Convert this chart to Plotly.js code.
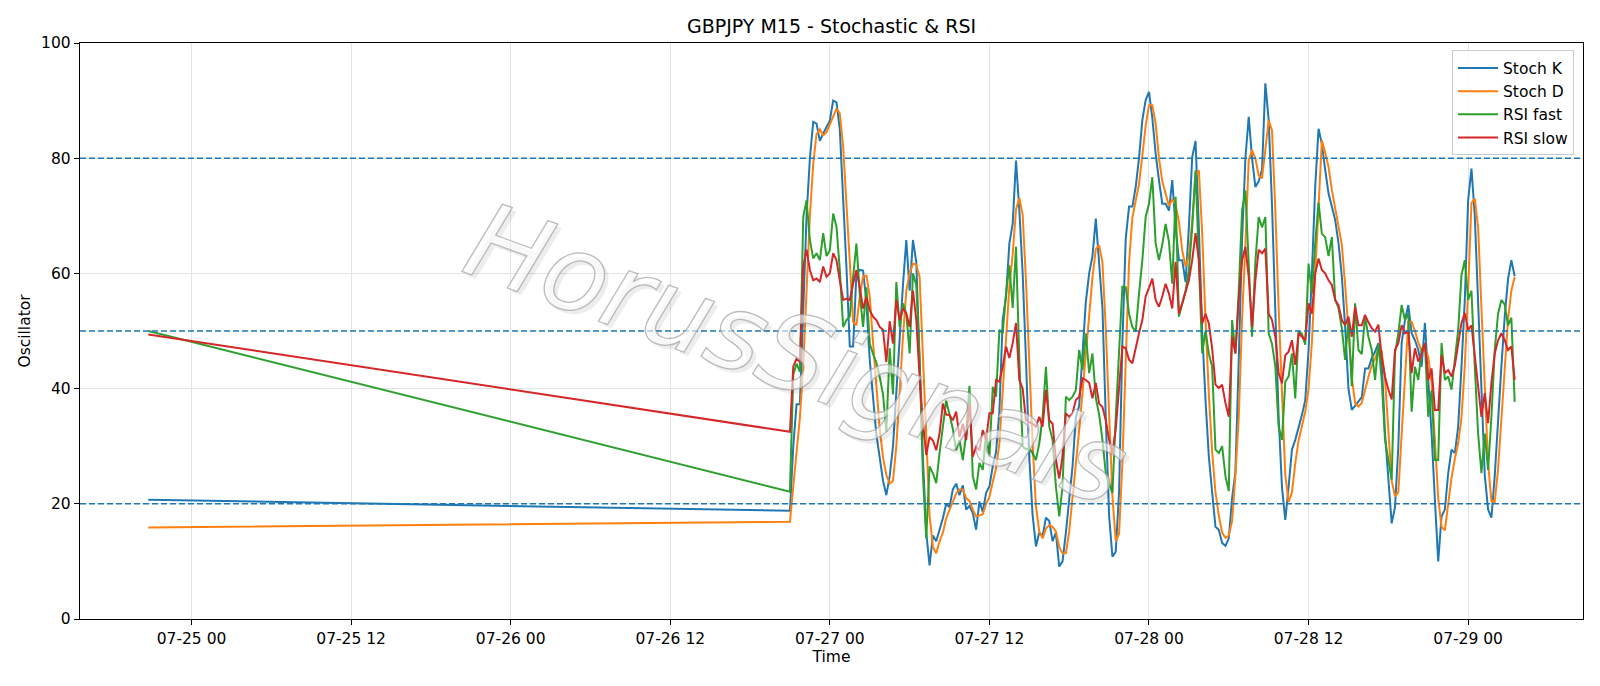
<!DOCTYPE html>
<html>
<head>
<meta charset="utf-8">
<script src="https://cdn.plot.ly/plotly-3.0.1.min.js"></script>
<style>html,body{margin:0;padding:0;background:#fff;}#chart{width:1600px;height:686px;}</style>
</head>
<body>
<div id="chart"></div>
<script>
// ---- data ----
const preGapTime = "2025-07-24 20:45";
const preGapK = 20.7, preGapD = 15.9, preGapFast = 50.0, preGapSlow = 49.4;
const sessionStart = "2025-07-26T21:00:00Z";   // first bar after the gap, M15 bars
const barMinutes = 15;

const stochK = [18.8,30,37.3,37.3,55,70,80,86.3,86,83,84.3,85.3,86.5,90,89.7,85,74,61,47.3,47.3,60,60.6,60.5,55,45,38,32,28,24,21.5,24.8,30,40,50,58,65.8,57,65.8,62,45,28,15,9.3,14.5,13.5,15.5,17.5,20,
19.4,22.5,23.5,21.5,23.2,19,19.6,18.4,15.5,20.4,18.6,21.9,23,26.5,29,36,52,56,65.2,68.6,79.6,71,60,45,28,18,12.6,15,14.4,17.6,17,13.5,15,9.1,10,15,20.7,26.5,35,37,46,55,60,63,69.5,62.3,54,35,18,10.8,11.7,22,48,66,71.6,71.6,75,80,86.6,90.1,
91.5,87,80.8,76.2,72.1,72.1,70.9,76.2,68,62.3,62.3,58.5,68,80.2,83,68,50,38,28.2,22,16,15.5,13.2,12.7,14,21,25.5,45,65.8,80,87.2,80,75,76,78,93,86.6,72,55,35,22.9,17.2,23,29.4,31.1,33.1,35.4,38,46.7,60,75,85.1,82.5,78,73.9,71.6,69.3,65.3,59.5,50.8,40,36.3,37,37.9,38.5,43.5,43.5,45.3,46.4,47.9,44.6,32.2,23.6,16.6,19.4,29.9,47.9,51.9,54.5,49.6,48.4,46.7,43.8,51.4,41.5,32.2,20.7,10,17.8,19,25.3,29.4,28.8,33.4,43.8,55.4,72.7,78.2,70,55,38,25,19,17.6,24.8,35,43.8,52.5,59,62.3,59.5];

const stochD = [16.9,23,29,35,44,56,70,79,84.2,85,84,84.5,86,87.2,88.6,87.8,82,72.7,62,51.6,51,56,59.5,59.6,56,48,40,33,28,25,23.5,24,30,40,49,57,60,61.7,61.5,59.4,45,33,18,12.5,11.4,13.5,15,17.5,
19,20.5,21.8,22.5,22.5,21,20.5,19,17.8,18,18.2,20,21.2,23.8,26.2,30.5,39,48,57.7,63.3,71.1,73.1,70.2,58.7,44.3,30.3,19.5,15.2,14,15.7,16.3,16,15.2,12.5,11.4,11.4,15.2,20.7,27.4,32.8,39.3,46,53.7,59.3,64.2,64.9,61.9,50.4,35.7,21.3,13.5,14.8,27.2,45.3,61.9,69.7,72.7,75.5,80.5,85.6,
89.2,89.2,86,80,76,73.9,71.7,72.8,72,69,64,61.2,63,69,77,77.9,67,52,39,29,22,18,15,14.1,14.5,17,25,35,52,65,79.6,81.4,80,77,76.5,81.5,86.6,84.8,71,54,38,25,20.3,22,27,31,33.5,36,40,48,60,73,83.1,81,78.5,74.5,71.5,68.5,65,58,50,42,37.5,36.9,37.5,40,42,44,45.2,46.8,46.5,41.5,33,24,21.3,22,32,43,51.6,51.6,50,48,46.5,47,45.5,41,31.5,21,16,15.4,20,24.5,27.8,30.5,35,44,57,72.2,73,68,54,39,27,20.5,20.3,26,34.5,43.8,52,57,59.4];

const rsiFast = [22.1,42.4,44.3,42.9,69.8,72.7,65.8,62.6,63.5,62.3,67,63,64,70.4,68.1,60.6,50.7,51.9,52.5,59.4,65.2,56.5,50.7,57.6,47.8,46,44.5,42,39,32.5,47,39,58.5,50.7,54.8,53,46.1,60,58,45,25,14,26.5,25.3,23.6,28.8,33,37.9,
35.5,33,29.3,31,27.6,32,40.5,24.8,22.5,27.1,25.9,32.2,28.2,40.3,38.6,50.2,49.6,56.5,61.4,54,64.6,45,29.9,29.5,29.6,28.8,27.6,30.5,35.1,43.8,33.4,31.1,23,17.8,23,38.6,38,38.6,39.7,46.7,43.2,49.6,42.7,46.1,38.4,35.5,31.1,25.3,23.6,21.9,35,47.3,57.7,57.6,53,50.7,49.9,56.5,62.3,69.8,
72.1,76.7,65.2,62.3,65,68.6,65.5,58.2,73.3,52.5,54.8,57,60.5,68,77.9,60,46.1,50,46.1,43.8,29.4,28.8,30,24.8,22.2,51.9,46.1,57,70.9,74.4,62,49,62,69.8,68,69.8,49.6,47.8,43.8,33.4,31.1,41.2,42.1,46.1,38.3,50,49.5,47.6,61.7,56.5,65.2,72.3,66.9,66.3,63,66.3,55.4,54,50.5,45,52,40.4,54.8,46.7,46,52.5,49,46.7,41.5,47.9,41.5,31.1,27.6,24.2,46.1,49.6,54.5,51.9,53.1,36,43.8,41.5,46.7,47.9,35.1,39.7,27.6,27.6,47.9,41.5,42.1,39.8,45,50.2,59.7,62.3,55.4,57,43.8,32.2,25.3,32.2,25.9,35.1,46.7,53,55.4,54.6,51,52.3,37.7];

const rsiSlow = [32.5,43.8,45.2,44.6,61.2,64.1,60.6,58.8,59.1,58.5,61.2,59.4,60,63.5,62.3,58.8,55.4,55.6,55.4,58.2,60.6,57.6,53.9,55.9,53.6,52.5,51.9,50.7,50.2,44.6,51.7,47.8,55.4,51.9,53.9,53,50.7,57,52,42,34,28.5,31.6,31,29.3,32.2,37.4,35.5,
35.4,34.5,36,31.6,33.9,31.1,37.5,28.2,29.9,29.3,32.8,31.1,35.7,35.7,41.5,41.2,43.8,47.3,45.3,47.9,51.4,41.5,40,34.5,34.2,33.9,33.4,35.1,33.4,39.8,34.5,33.9,27.6,24.4,28.2,35.7,35.1,35.7,38,38.6,41.8,41.5,41,38.3,41,37.4,36.8,34.5,31.1,28.8,33,40,47.3,47,45,44.4,47.3,49.6,51.9,56,
57.5,59.1,55.4,54.2,56,58.2,56.5,53.9,62,53,54.8,57,58.8,62.3,67,62.3,51.3,53,51.3,47,40.7,40.1,40.7,37.5,35.1,49,46.1,55.4,62.3,64.6,59.4,50.7,58.8,64.1,63.5,64.3,53,51.9,49,42.7,40.9,45.8,46.4,48.4,44.1,49.6,49,48.4,54.8,53,60,62.6,60.6,60,58.8,58,55.4,54.5,51.9,51,52.5,49,54.2,51,51,52.8,51.5,50.5,49.9,51.1,45.5,42.1,39.8,38.1,46.7,47.9,51,49.6,49.9,42.7,47,44.7,46,47.9,41.5,43.5,36.3,36.3,45.8,42.7,43.2,42.1,44,47.9,51.4,53.1,50.2,51,46,40,35.1,39.2,34,41,46.1,48.4,49.6,48.4,46.7,47.3,41.5];

const levels = [20, 50, 80];
const xTicks = ["2025-07-25 00:00","2025-07-25 12:00","2025-07-26 00:00","2025-07-26 12:00","2025-07-27 00:00","2025-07-27 12:00","2025-07-28 00:00","2025-07-28 12:00","2025-07-29 00:00"];
const yTicks = [0, 20, 40, 60, 80, 100];
const seriesNames = ["Stoch K", "Stoch D", "RSI fast", "RSI slow"];
const seriesColors = ["#1f77b4", "#ff7f0e", "#2ca02c", "#d62728"];

// ---- time axis: one bar before the gap, then consecutive M15 bars ----
const t0 = Date.parse(sessionStart);
const times = [preGapTime];
for (let i = 0; i < stochK.length; i++) {
  times.push(new Date(t0 + i * barMinutes * 60000).toISOString().slice(0, 16).replace("T", " "));
}
const seriesData = [
  [preGapK].concat(stochK),
  [preGapD].concat(stochD),
  [preGapFast].concat(rsiFast),
  [preGapSlow].concat(rsiSlow)
];

const traces = seriesData.map((ys, k) => ({
  type: "scatter", mode: "lines", x: times, y: ys, name: seriesNames[k],
  line: { color: seriesColors[k], width: 2 }
}));

const FONT = "DejaVu Sans, Liberation Sans, sans-serif";
const shapes = levels.map(v => ({
  type: "line", xref: "paper", x0: 0, x1: 1, yref: "y", y0: v, y1: v,
  line: { color: "#1f77b4", width: 1.4, dash: "6px,3px" }, layer: "above"
}));

const wm = "HorusSignals";
const layout = {
  width: 1600, height: 686,
  margin: { l: 80, r: 17, t: 43, b: 67, pad: 0 },
  paper_bgcolor: "#ffffff", plot_bgcolor: "#ffffff",
  font: { family: FONT, size: 15.5, color: "#000000" },
  showlegend: true,
  title: { text: "GBPJPY M15 - Stochastic & RSI", font: { family: FONT, size: 19, color: "#000" },
           x: 0.5, xref: "paper", xanchor: "center", y: 1 - 26.5 / 686, yref: "container", yanchor: "middle" },
  xaxis: {
    type: "date", range: ["2025-07-24 15:36:45", "2025-07-29 08:38:15"],
    tickmode: "array", tickvals: xTicks, tickformat: "%m-%d %H",
    ticks: "outside", ticklen: 5, tickwidth: 1, tickcolor: "#000",
    showline: true, linecolor: "#000", linewidth: 1.2, mirror: true,
    showgrid: true, gridcolor: "#e3e3e3", gridwidth: 1, zeroline: false,
    tickfont: { size: 15.5 },
    title: { text: "Time", font: { size: 15.5 }, standoff: 4 }, automargin: false
  },
  yaxis: {
    range: [0, 100], tickmode: "array", tickvals: yTicks,
    ticks: "outside", ticklen: 5, tickwidth: 1, tickcolor: "#000",
    showline: true, linecolor: "#000", linewidth: 1.2, mirror: true,
    showgrid: true, gridcolor: "#e3e3e3", gridwidth: 1, zeroline: false,
    tickfont: { size: 15.5 },
    title: { text: "Oscillator", font: { size: 15.5 }, standoff: 6 }, automargin: false
  },
  legend: {
    x: 0.994, y: 0.987, xanchor: "right", yanchor: "top",
    bgcolor: "rgba(255,255,255,0.85)", bordercolor: "#cccccc", borderwidth: 1,
    font: { size: 15.5 }, itemwidth: 40, tracegroupgap: 0
  },
  shapes: shapes,
  annotations: [
    { text: wm, xref: "paper", yref: "paper", x: 0.477, y: 0.46, xanchor: "center", yanchor: "middle",
      xshift: 4, yshift: -4, textangle: 20, showarrow: false,
      font: { family: FONT, size: 106, color: "rgba(0,0,0,0.07)", style: "italic" } },
    { text: wm, xref: "paper", yref: "paper", x: 0.477, y: 0.46, xanchor: "center", yanchor: "middle",
      textangle: 20, showarrow: false,
      font: { family: FONT, size: 106, color: "rgba(255,255,255,0.6)", style: "italic" } }
  ]
};

Plotly.newPlot("chart", traces, layout, { staticPlot: true, displayModeBar: false }).then(() => {
  const nodes = document.querySelectorAll(".annotation-text");
  if (nodes.length > 1) {
    const n = nodes[1];
    n.style.stroke = "rgba(160,160,160,0.7)";
    n.style.strokeWidth = "1.3px";
  }
});
</script>
</body>
</html>
